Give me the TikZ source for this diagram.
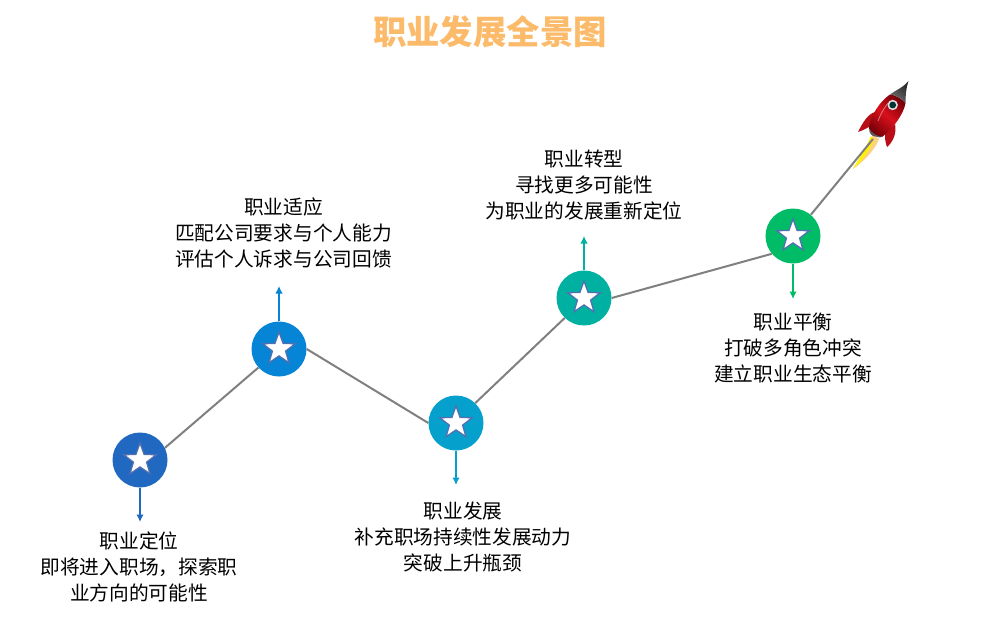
\documentclass[tikz,border=0pt]{standalone}
\usepackage{fontspec}
\setmainfont{Noto Sans CJK SC}
\usetikzlibrary{shapes.geometric,arrows.meta}
\definecolor{cA}{HTML}{2068C0}
\definecolor{cB}{HTML}{0684D6}
\definecolor{cC}{HTML}{06A0CC}
\definecolor{cD}{HTML}{00B0A0}
\definecolor{cE}{HTML}{00BC66}
\definecolor{titlec}{HTML}{FBBB6B}
\definecolor{linkc}{HTML}{808080}
\definecolor{starline}{HTML}{5070B0}
\definecolor{rktdark}{HTML}{7A0008}
\definecolor{rktred}{HTML}{D8101C}
\tikzset{
 dot/.style={circle,fill=#1,draw=none,minimum size=55pt,inner sep=0pt},
 starmark/.style={star,star points=5,star point ratio=2.45,fill=white,draw=starline,line width=1.3pt,minimum size=34pt,inner sep=0pt},
 link/.style={draw=linkc,line width=2pt},
 stem/.style={line width=2pt,-{Latex[length=7.5pt,width=7.5pt]},draw=#1},
 lab/.style={align=center,font=\fontsize{19.7}{26}\selectfont,text=black,inner sep=0pt},
}
\begin{document}
\begin{tikzpicture}[x=1pt,y=-1pt]
\useasboundingbox (0,0) rectangle (981,631);
\fill[white] (0,0) rectangle (981,631);
\node[font=\fontsize{33.4}{36}\bfseries\selectfont,text=titlec,inner sep=0pt] (title) at (490,32) {职业发展全景图};
\coordinate (tail) at (873,139);
\node[dot=cA] (n1) at (140,460) {};
\node[dot=cB] (n2) at (279,349) {};
\node[dot=cC] (n3) at (456,423) {};
\node[dot=cD] (n4) at (584,298) {};
\node[dot=cE] (n5) at (793,236) {};
% flame
\fill[yellow!25!orange!45!white] (873,135) .. controls (868,148) and (858,160) .. (853,169) .. controls (864,161) and (875,150) .. (879,139) -- cycle;
\fill[yellow] (871,136) .. controls (866,148) and (858,160) .. (853,169) .. controls (860,163) and (868,153) .. (874,140) -- cycle;
\draw[link] (n1.26) -- (n2.222);
\draw[link] (n2.east) -- (n3.west);
\draw[link] (n3.46) -- (n4.226);
\draw[link] (n4.east) -- (n5.220);
\draw[link] (n5.50) -- (tail);
\node[starmark] (s1) at (140,460) {};
\node[starmark] (s2) at (279,349) {};
\node[starmark] (s3) at (456,423) {};
\node[starmark] (s4) at (584,298) {};
\node[starmark] (s5) at (793,236) {};
\coordinate (e1) at (140,522);
\coordinate (e2) at (279,286);
\coordinate (e3) at (456,485);
\coordinate (e4) at (584,236);
\coordinate (e5) at (793,299);
\draw[stem=cA] (n1) -- (e1);
\draw[stem=cB] (n2) -- (e2);
\draw[stem=cC] (n3) -- (e3);
\draw[stem=cD] (n4) -- (e4);
\draw[stem=cE] (n5) -- (e5);
\node[lab] (t1) at (139,567) {职业定位\\即将进入职场，探索职\\业方向的可能性};
\node[lab] (t2) at (283.5,233) {职业适应\\匹配公司要求与个人能力\\评估个人诉求与公司回馈};
\node[lab] (t3) at (463,537) {职业发展\\补充职场持续性发展动力\\突破上升瓶颈};
\node[lab] (t4) at (584,185) {职业转型\\寻找更多可能性\\为职业的发展重新定位};
\node[lab] (t5) at (793,348.5) {职业平衡\\打破多角色冲突\\建立职业生态平衡};
% rocket: fins
\fill[rktred!85!black] (875,112) .. controls (868,114) and (863,122) .. (858,132) .. controls (864,130) and (869,127) .. (872,125) -- cycle;
\fill[rktred!85!black] (895,124) .. controls (897,133) and (893,142) .. (887,147) .. controls (885,142) and (885,137) .. (885,134) -- cycle;
% body
\shade[left color=rktdark,right color=rktdark,middle color=rktred,shading angle=-40] (890,94.5) .. controls (879,102) and (870,117) .. (868.8,128.3) .. controls (871,133.5) and (878,137.5) .. (882,137) .. controls (894,128) and (904,113) .. (905.5,103) .. controls (901,98) and (895,95) .. (890,94.5) -- cycle;
\draw[white,line width=.8pt,opacity=.45] (878,121) .. controls (881,113) and (885,107) .. (888,103);
% nozzle
\fill[black!65] (869.3,128.3) .. controls (869,132) and (870,134) .. (873,136) -- (880,137.5) -- (882,136.5) .. controls (878,137) and (871,133) .. (869.3,128.3) -- cycle;
% nose
\shade[left color=black!85,right color=black!55,shading angle=-40] (890,94.5) .. controls (896,90) and (904,87) .. (908.5,81) .. controls (906,88) and (905.5,96) .. (905.5,103) .. controls (901,98) and (895,95) .. (890,94.5) -- cycle;
% window
\fill[gray!25] (892.7,105) circle (5.2pt);
\fill[black!60!teal] (892.7,105) circle (3.4pt);
\end{tikzpicture}
\end{document}
